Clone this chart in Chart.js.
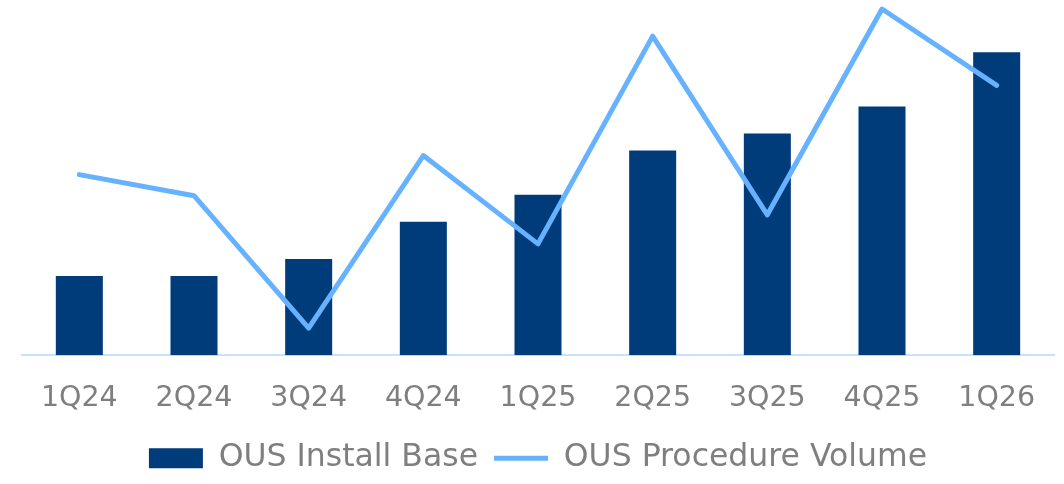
<!DOCTYPE html>
<html>
<head>
<meta charset="utf-8">
<script src="https://cdn.jsdelivr.net/npm/chart.js@4"></script>
<style>
    html, body { margin: 0; padding: 0; background: #ffffff; }
    #wrap { width: 1064px; height: 484px; }
</style>
</head>
<body>
<div id="wrap"><canvas id="myChart"></canvas></div>
<script>
const quarters = ["1Q24", "2Q24", "3Q24", "4Q24", "1Q25", "2Q25", "3Q25", "4Q25", "1Q26"];
const installBase = [79, 79, 96, 133, 160, 204, 221, 248, 302];
const procedureVolume = [180, 159, 27, 199, 111, 318, 140, 345, 269];

function init() {
    const ctx = document.getElementById('myChart');
    const textColor = "#7f7f7f";
    const fontFamily = "'DejaVu Sans', sans-serif";

    new Chart(ctx, {
        data: {
            labels: quarters,
            datasets: [
                {
                    type: 'line',
                    label: "OUS Procedure Volume",
                    data: procedureVolume,
                    yAxisID: 'y2',
                    borderColor: "#66b2ff",
                    backgroundColor: "#66b2ff",
                    borderWidth: 5,
                    borderCapStyle: 'round',
                    borderJoinStyle: 'round',
                    pointRadius: 0,
                    tension: 0,
                    clip: false,
                    pointStyle: 'line'
                },
                {
                    type: 'bar',
                    label: "OUS Install Base",
                    data: installBase,
                    yAxisID: 'y',
                    backgroundColor: "#003b7a",
                    borderWidth: 0,
                    categoryPercentage: 1,
                    barPercentage: 0.41,
                    pointStyle: 'rect'
                }
            ]
        },
        options: {
            responsive: true,
            maintainAspectRatio: false,
            animation: false,
            layout: {
                padding: { left: 22, right: 10, top: 0, bottom: 0 }
            },
            plugins: {
                tooltip: { enabled: false },
                legend: {
                    display: true,
                    position: 'bottom',
                    reverse: true,
                    labels: {
                        usePointStyle: true,
                        pointStyleWidth: 54,
                        boxHeight: 20,
                        padding: 16,
                        color: textColor,
                        font: { family: fontFamily, size: 31.5 }
                    }
                }
            },
            scales: {
                x: {
                    grid: { display: false },
                    border: { color: "#c9e2f8", width: 2 },
                    ticks: {
                        color: textColor,
                        padding: 18,
                        font: { family: fontFamily, size: 28.5 }
                    },
                    afterFit: (scale) => { scale.height -= 7; }
                },
                y: {
                    display: false,
                    min: 0,
                    max: 354
                },
                y2: {
                    display: false,
                    min: 0,
                    max: 354
                }
            }
        }
    });
}

window.onload = () => {
    init();
};
</script>
</body>
</html>
